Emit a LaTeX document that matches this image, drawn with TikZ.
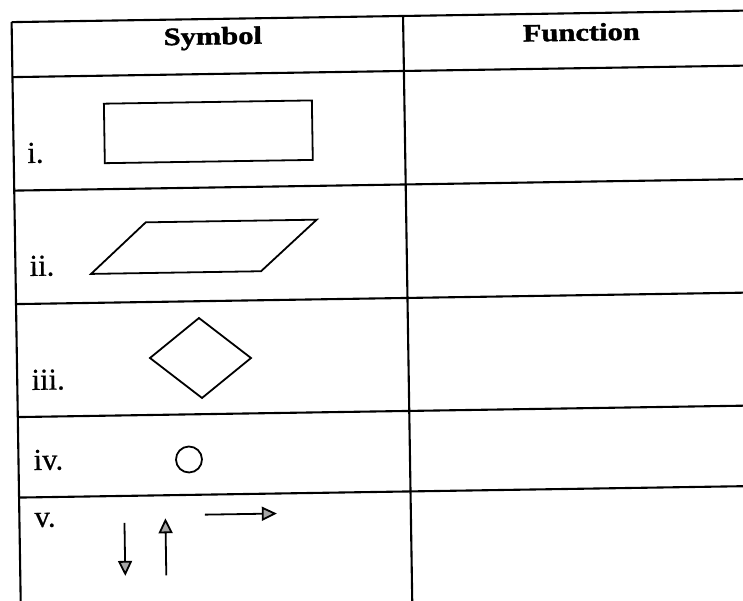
\documentclass[tikz,border=0pt]{standalone}
\usepackage{fontspec}
\setmainfont{Liberation Serif}
\newfontfamily\cabecera[FakeStretch=1.22,FakeBold=1.5]{Liberation Serif}
\newfontfamily\numeral[FakeBold=0.6]{Liberation Serif}
\usetikzlibrary{arrows.meta}
\begin{document}
\begin{tikzpicture}[x=1pt,y=-1pt,
   tabla/.style={line width=2.1pt},
   simbolo/.style={line width=1.8pt},
   flecha/.style={simbolo,-{Triangle[length=15pt,width=14pt,fill=gray!70]}},
   titulo/.style={font=\cabecera\bfseries\fontsize{25}{29}\selectfont,anchor=base,transform shape},
   fila/.style={font=\numeral\fontsize{30.5}{34}\selectfont,anchor=base west,inner sep=0pt,transform shape}]
   \useasboundingbox (0,0) rectangle (743,601);
   \clip (0,0) rectangle (743,601);
   \begin{scope}[rotate around={0.9:(372,300)}]
   \draw[tabla] (16,16.5) -- (760,16.5);
   \draw[tabla] (16,16.5) -- (16,620);
   \draw[tabla] (407.5,16.5) -- (407.5,620);
   \draw[tabla] (16,71.5) -- (760,71.5);
   \draw[tabla] (16,185) -- (760,185);
   \draw[tabla] (16,298.5) -- (760,298.5);
   \draw[tabla] (16,411.5) -- (760,411.5);
   \draw[tabla] (16,492) -- (760,492);

   \node[titulo] (simb) at (217,42) {Symbol};
   \node[titulo] (func) at (585.5,44) {Function};

   \node[fila] (fila1) at (29.5,157.6) {i.};
   \node[fila] (fila2) at (30,270.6) {ii.};
   \node[fila] (fila3) at (30.2,384.6) {iii.};
   \node[fila] (fila4) at (31,464.7) {iv.};
   \node[fila] (fila5) at (31,521.7) {v.};

   \draw[simbolo] (107,99.5) rectangle (315,159);
   \draw[simbolo] (91.5,269.5) -- (147,218.8) -- (318,218.8)
   -- (261.5,269.5) -- cycle;
   \draw[simbolo] (149.1,354.5) -- (198.7,315.3) -- (250.1,356.1)
   -- (200.5,395.3) -- cycle;
   \draw[simbolo] (186.5,456.6) circle (13pt);

   \draw[flecha] (121,519) -- (121,572);
   \draw[flecha] (162,572) -- (162,515);
   \draw[flecha] (201.5,512) -- (273.5,512);
   \end{scope}
\end{tikzpicture}
\end{document}
